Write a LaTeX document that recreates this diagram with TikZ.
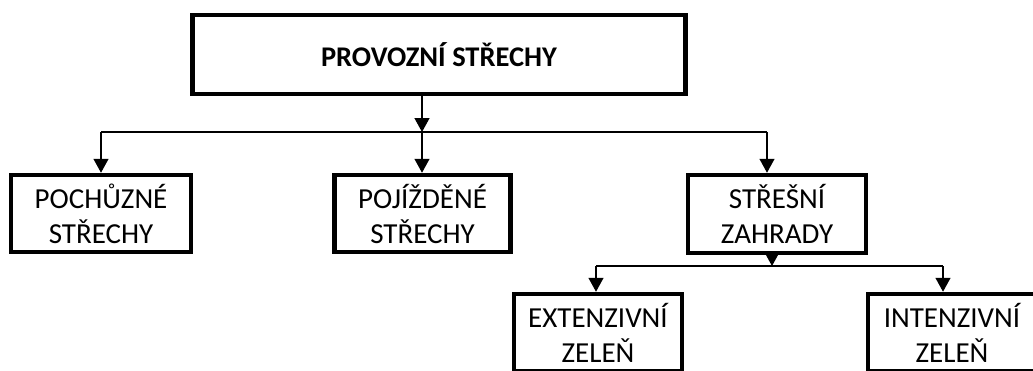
\documentclass[tikz,border=0pt]{standalone}
\usepackage{fontspec}
\setmainfont{Carlito}
\usetikzlibrary{arrows.meta}
\tikzset{
  x=1pt, y=1pt,
  box/.style={draw, line width=4.5pt, align=center, inner sep=0pt,
    font=\fontsize{29}{35}\selectfont, text=black},
  conn/.style={line width=1.4pt, draw=black},
  arr/.style={conn, -{Triangle[width=15pt,length=14pt]}},
}
\begin{document}
\begin{tikzpicture}
\useasboundingbox (0,0) rectangle (1033,-370);
\clip (0,0) rectangle (1033,-370);
\node[box, minimum width=493pt, minimum height=79pt, font=\fontsize{28.5}{34}\selectfont\bfseries] (top) at (439,-54.5) {PROVOZNÍ STŘECHY};
\node[box, minimum width=180pt, minimum height=77pt] (poch) at (101,-213.5) {POCHŮZNÉ\\STŘECHY};
\node[box, minimum width=176pt, minimum height=77pt] (poj) at (422.5,-213.5) {POJÍŽDĚNÉ\\STŘECHY};
\node[box, minimum width=178pt, minimum height=78pt] (stre) at (777,-214) {STŘEŠNÍ\\ZAHRADY};
\node[box, minimum width=168pt, minimum height=77pt] (ext) at (598,-332.5) {EXTENZIVNÍ\\ZELEŇ};
\node[box, minimum width=168pt, minimum height=77pt] (int) at (952,-332.5) {INTENZIVNÍ\\ZELEŇ};
% bus 1
\coordinate (b0) at (422,-132);
\coordinate (b1l) at (101,-132);
\coordinate (b1r) at (767,-132);
\draw[arr] (top.south -| b0) -- (b0);
\draw[conn] (b1l) -- (b1r);
\draw[arr] (b1l) -- (poch.north -| b1l);
\draw[arr] (b0) -- (poj.north -| b0);
\draw[arr] (b1r) -- (stre.north -| b1r);
% bus 2
\coordinate (b2) at (772,-266);
\coordinate (b2l) at (596,-266);
\coordinate (b2r) at (943,-266);
\draw[arr] (stre.south -| b2) -- (b2);
\draw[conn] (b2l) -- (b2r);
\draw[arr] (b2l) -- (ext.north -| b2l);
\draw[arr] (b2r) -- (int.north -| b2r);
\end{tikzpicture}
\end{document}
